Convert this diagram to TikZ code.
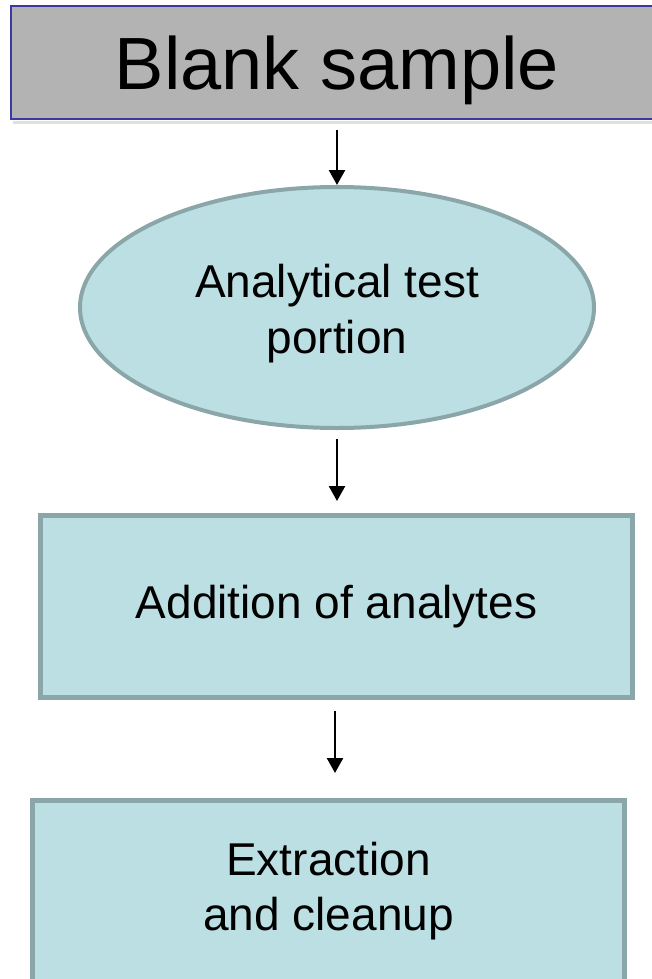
\documentclass[tikz,border=0pt]{standalone}
\usepackage{fontspec}
\setmainfont{Liberation Sans}
\usetikzlibrary{arrows.meta,shapes.geometric}
\definecolor{boxfill}{HTML}{BBDFE2}
\definecolor{boxline}{HTML}{8AA6A8}
\definecolor{topfill}{HTML}{B3B3B3}
\definecolor{topline}{HTML}{3A3AA0}
\tikzset{
  stepbox/.style={rectangle, draw=boxline, fill=boxfill, line width=5pt, inner sep=0pt,
    minimum width=592pt, minimum height=182pt, align=center,
    font=\fontsize{46}{55}\selectfont},
  ovalbox/.style={ellipse, draw=boxline, fill=boxfill, line width=4pt, inner sep=0pt,
    minimum width=514pt, minimum height=241pt, align=center,
    font=\fontsize{46}{56}\selectfont},
  titlebox/.style={rectangle, draw=topline, fill=topfill, line width=2pt, inner sep=0pt,
    minimum width=652pt, minimum height=113pt, text height=54pt, text depth=0pt,
    font=\fontsize{74}{80}\selectfont},
  flow/.style={-{Triangle[width=16pt,length=15pt]}, line width=2.5pt, black}
}
\begin{document}
\begin{tikzpicture}[x=1pt,y=-1pt]
\useasboundingbox (0,0) rectangle (652,979);
\begin{scope}
\clip (0,0) rectangle (652,979);
\fill[black!12] (13,121) rectangle (665,124);
\node[titlebox] (top) at (337,62.5) {Blank sample};
\node[ovalbox] (ell) at (337,307.5) {\rule{0pt}{46pt}Analytical test\\portion};
\node[stepbox] (add) at (336.5,606.5) {Addition of analytes};
\node[stepbox] (ext) at (328.5,891.5) {Extraction\\and cleanup};
\end{scope}
\path (add.south) ++(-1.5,0) coordinate (a3s);
\draw[flow, shorten <=10pt] (top.south) -- (ell.north);
\draw[flow, shorten <=9pt, shorten >=12pt] (ell.south) -- (ell.south |- add.north);
\draw[flow, shorten <=11pt, shorten >=25pt] (a3s) -- (a3s |- ext.north);
\end{tikzpicture}
\end{document}
